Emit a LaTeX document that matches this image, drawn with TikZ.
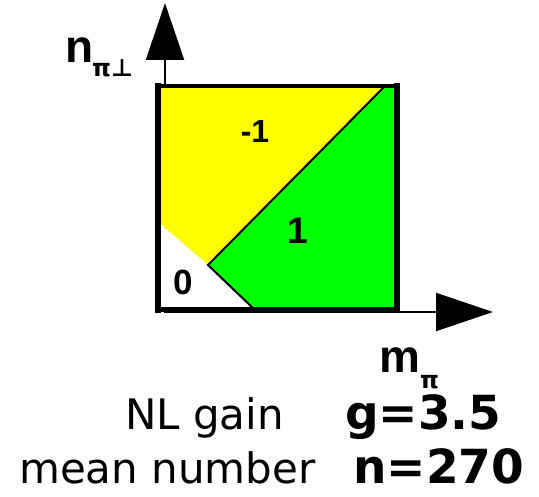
\documentclass[tikz,border=0pt]{standalone}
\usepackage{fontspec}
\setmainfont{DejaVu Sans}
\newfontfamily\arialb{Liberation Sans}[BoldFont={* Bold}]
\usetikzlibrary{arrows.meta}
\definecolor{ylw}{RGB}{255,255,0}
\definecolor{grn}{RGB}{0,255,0}
\tikzset{
  axisline/.style={line width=2pt,-{Triangle[length=57pt,width=38pt]}},
  border/.style={line width=#1,line cap=rect},
  divider/.style={line width=2pt},
  lbl/.style={inner sep=0pt,anchor=base west},
  region/.style={inner sep=0pt,anchor=center,font={\arialb\bfseries\fontsize{#1}{#1}\selectfont}},
  bigaxis/.style={lbl,font={\arialb\bfseries\fontsize{46}{46}\selectfont}},
  subaxis/.style={lbl,font={\bfseries\fontsize{24}{24}\selectfont}},
  plain/.style={lbl,font={\fontsize{42}{42}\selectfont}},
  value/.style={lbl,font={\bfseries\fontsize{47}{47}\selectfont}},
}
\begin{document}
\begin{tikzpicture}[x=1pt,y=-1pt]
\useasboundingbox (0,0) rectangle (539,497);
% key points
\coordinate (O) at (165,313);
\coordinate (ytip) at (165,3);
\coordinate (xO) at (165,312);
\coordinate (xtip) at (493,312);
\coordinate (TL) at (158,86);
\coordinate (TR) at (397,86);
\coordinate (BR) at (397,310);
\coordinate (BL) at (158,310);
\coordinate (dtop) at (385,86);
\coordinate (dmid) at (208,265);
\coordinate (dbot) at (255,310);
\coordinate (wl) at (158,222);
% axes
\draw[axisline] (O) -- (ytip);
\draw[axisline] (xO) -- (xtip);
% regions
\fill[ylw] (TL) -- (dtop) -- (dmid) -- (wl) -- cycle;
\fill[grn] (dtop) -- (TR) -- (BR) -- (dbot) -- (dmid) -- cycle;
\fill[white] (wl) -- (dmid) -- (dbot) -- (BL) -- cycle;
\draw[divider] (dtop) -- (dmid) -- (dbot);
% border
\draw[border=4pt] (TL) -- (TR);
\draw[border=6pt] (TL) -- (BL);
\draw[border=6pt] (TR) -- (BR);
\draw[border=5pt] (BL) -- (BR);
% region labels
\node[region=32] (rm1) at (255,131) {-1};
\node[region=37] (rp1) at (298,231) {1};
\node[region=35] (r0) at (183,282) {0};
% axis labels
\node[bigaxis] (nlab) at (65,63) {n};
\node[subaxis] (nsub) at (92,77) {π⊥};
\node[bigaxis] (mlab) at (379,373) {m};
\node[subaxis] (msub) at (420,389) {π};
% bottom text
\node[plain] (gain) at (125,430) {NL gain};
\node[value] (gval) at (345,430) {g=3.5};
\node[plain] (mean) at (19,484) {mean number};
\node[value] (nval) at (353,484) {n=270};
\end{tikzpicture}
\end{document}
